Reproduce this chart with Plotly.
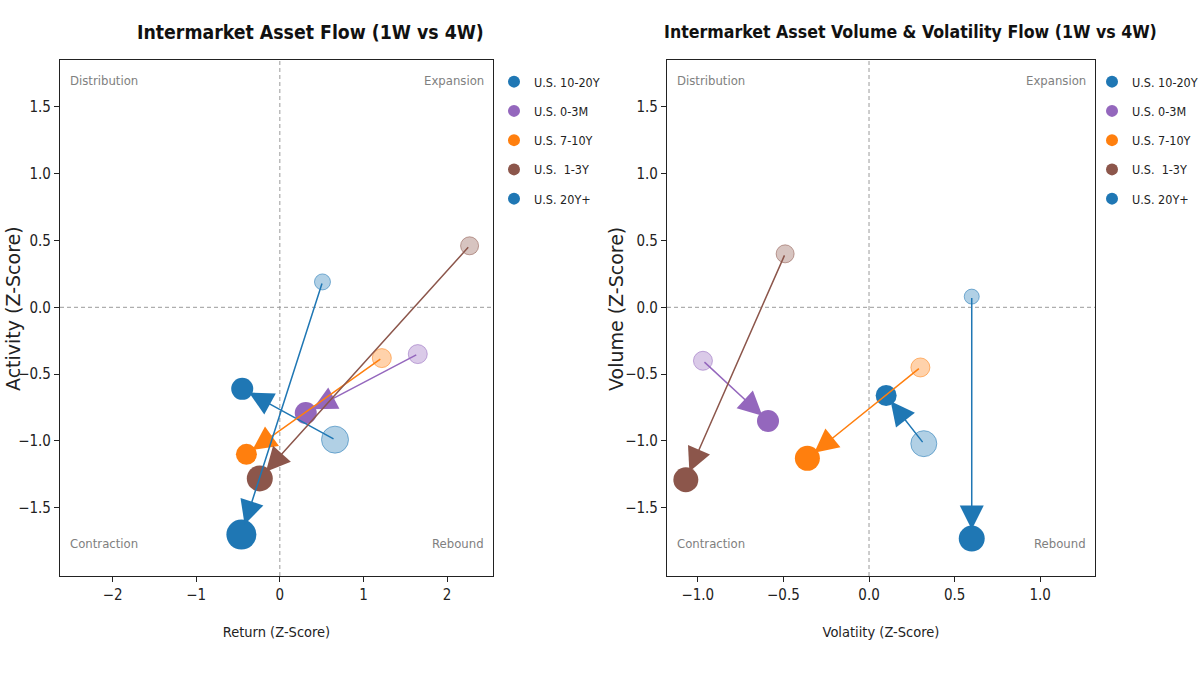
import plotly.graph_objects as go

# ---------------- data ----------------
series = ["U.S. 10-20Y", "U.S. 0-3M", "U.S. 7-10Y", "U.S. \u00a01-3Y", "U.S. 20Y+"]

# Left panel: Return vs Activity (4W = faded start, 1W = solid end)
ret_4w = [0.66, 1.65, 1.22, 2.27, 0.51]
act_4w = [-0.99, -0.35, -0.38, 0.46, 0.19]
ret_1w = [-0.45, 0.31, -0.40, -0.24, -0.46]
act_1w = [-0.61, -0.79, -1.10, -1.28, -1.70]

# Right panel: Volatility vs Volume
vol_4w = [0.32, -0.97, 0.30, -0.49, 0.60]
volu_4w = [-1.02, -0.40, -0.45, 0.40, 0.08]
vol_1w = [0.10, -0.59, -0.36, -1.07, 0.60]
volu_1w = [-0.66, -0.85, -1.13, -1.29, -1.73]

# ---------------- styles ----------------
colors = ["#1f77b4", "#9467bd", "#ff7f0e", "#8c564b", "#1f77b4"]
size4_left = [27, 19, 19, 18, 16]
size1_left = [22, 22, 21, 26, 30]
size4_right = [26, 19, 19, 18, 15]
size1_right = [21, 22, 25, 25, 26]

FONT = "DejaVu Sans Condensed, Liberation Sans Narrow, DejaVu Sans"


def rgba(hex_color, a):
    h = hex_color.lstrip("#")
    r, g, b = int(h[0:2], 16), int(h[2:4], 16), int(h[4:6], 16)
    return f"rgba({r},{g},{b},{a})"


fig = go.Figure()


def add_panel(xs4, ys4, xs1, ys1, s4, s1, xa, ya, legend, tag):
    for i, name in enumerate(series):
        c = colors[i]
        fig.add_trace(go.Scatter(
            x=[xs4[i]], y=[ys4[i]], mode="markers",
            marker=dict(size=s4[i], color=rgba(c, 0.35),
                        line=dict(color=rgba(c, 0.55), width=1)),
            showlegend=False, legendgroup=f"{tag}{i}", legend=legend,
            xaxis=xa, yaxis=ya, hoverinfo="skip"))
        fig.add_trace(go.Scatter(
            x=[xs1[i]], y=[ys1[i]], mode="markers",
            marker=dict(size=s1[i], color=c),
            name=name, legendgroup=f"{tag}{i}", legend=legend,
            xaxis=xa, yaxis=ya))
        fig.add_annotation(
            x=xs1[i], y=ys1[i], ax=xs4[i], ay=ys4[i],
            xref=xa, yref=ya, axref=xa, ayref=ya,
            text="", showarrow=True, arrowhead=2, arrowsize=3.2,
            arrowwidth=1.5, arrowcolor=c, standoff=s1[i] * 0.35)


add_panel(ret_4w, act_4w, ret_1w, act_1w, size4_left, size1_left, "x", "y", "legend", "l")
add_panel(vol_4w, volu_4w, vol_1w, volu_1w, size4_right, size1_right, "x2", "y2", "legend2", "r")

axis_common = dict(showline=True, linecolor="#222", linewidth=1.2, mirror=True,
                   ticks="outside", ticklen=5, tickcolor="#222", showgrid=False,
                   zeroline=False, tickfont=dict(family=FONT, size=15, color="#222"),
                   automargin=False)

ydom = [1 - 576 / 675, 1 - 60 / 675]
legend_common = dict(yanchor="top", xanchor="left", y=1 - 67 / 675,
                     font=dict(family=FONT, size=12.5, color="#222"), itemsizing="constant",
                     traceorder="grouped", tracegroupgap=10, bgcolor="rgba(0,0,0,0)")

fig.update_layout(
    width=1200, height=675,
    margin=dict(l=0, r=0, t=0, b=0, autoexpand=False),
    paper_bgcolor="white", plot_bgcolor="white",
    font=dict(family=FONT, color="#222"),
    xaxis=dict(domain=[60 / 1200, 493 / 1200], range=[-2.63, 2.55],
               tickvals=[-2, -1, 0, 1, 2],
               title=dict(text="Return (Z-Score)", font=dict(family=FONT, size=14.5), standoff=23),
               anchor="y", **axis_common),
    yaxis=dict(domain=ydom, range=[-2.01, 1.85], tickvals=[-1.5, -1, -0.5, 0, 0.5, 1, 1.5],
               tickformat=".1f", anchor="x", **axis_common),
    xaxis2=dict(domain=[667 / 1200, 1095 / 1200], range=[-1.18, 1.32],
                tickvals=[-1, -0.5, 0, 0.5, 1], tickformat=".1f",
                title=dict(text="Volatiity (Z-Score)", font=dict(family=FONT, size=14.5), standoff=23),
                anchor="y2", **axis_common),
    yaxis2=dict(domain=ydom, range=[-2.01, 1.85], tickvals=[-1.5, -1, -0.5, 0, 0.5, 1, 1.5],
                tickformat=".1f", anchor="x2", **axis_common),
    legend=dict(x=494 / 1200, **legend_common),
    legend2=dict(x=1092 / 1200, **legend_common),
    showlegend=True,
)

# y-axis titles (rotated)
for txt, px in [("Activity (Z-Score)", 13), ("Volume (Z-Score)", 616)]:
    fig.add_annotation(text=txt, xref="paper", yref="paper", x=px / 1200, y=1 - 309 / 675,
                       xanchor="center", yanchor="middle", textangle=-90, showarrow=False,
                       font=dict(family="DejaVu Sans", size=19, color="#222"))

# dashed zero reference lines
for xa, ya in [("x", "y"), ("x2", "y2")]:
    fig.add_shape(type="line", xref=xa, yref=f"{ya} domain", x0=0, x1=0, y0=0, y1=1,
                  line=dict(color="#9a9a9a", width=1, dash="4px,3px"), layer="below")
    fig.add_shape(type="line", xref=f"{xa} domain", yref=ya, x0=0, x1=1, y0=0, y1=0,
                  line=dict(color="#9a9a9a", width=1, dash="4px,3px"), layer="below")

# panel titles
fig.add_annotation(text="<b>Intermarket Asset Flow (1W vs 4W)</b>", xref="paper", yref="paper",
                   x=310 / 1200, y=1 - 32 / 675, xanchor="center", yanchor="middle",
                   showarrow=False, font=dict(family=FONT, size=19.3, color="#111"))
fig.add_annotation(text="<b>Intermarket Asset Volume &amp; Volatility Flow (1W vs 4W)</b>",
                   xref="paper", yref="paper",
                   x=910 / 1200, y=1 - 32 / 675, xanchor="center", yanchor="middle",
                   showarrow=False, font=dict(family=FONT, size=17.6, color="#111"))

# quadrant labels
quad = [("Distribution", 0.018, 0.978, "left", "top"),
        ("Expansion", 0.983, 0.978, "right", "top"),
        ("Contraction", 0.018, 0.045, "left", "bottom"),
        ("Rebound", 0.983, 0.045, "right", "bottom")]
for xa, ya in [("x", "y"), ("x2", "y2")]:
    for txt, qx, qy, xan, yan in quad:
        fig.add_annotation(text=txt, xref=f"{xa} domain", yref=f"{ya} domain",
                           x=qx, y=qy, xanchor=xan, yanchor=yan, showarrow=False,
                           font=dict(family=FONT, size=13, color="#808080"))

fig.write_html("out.html")
